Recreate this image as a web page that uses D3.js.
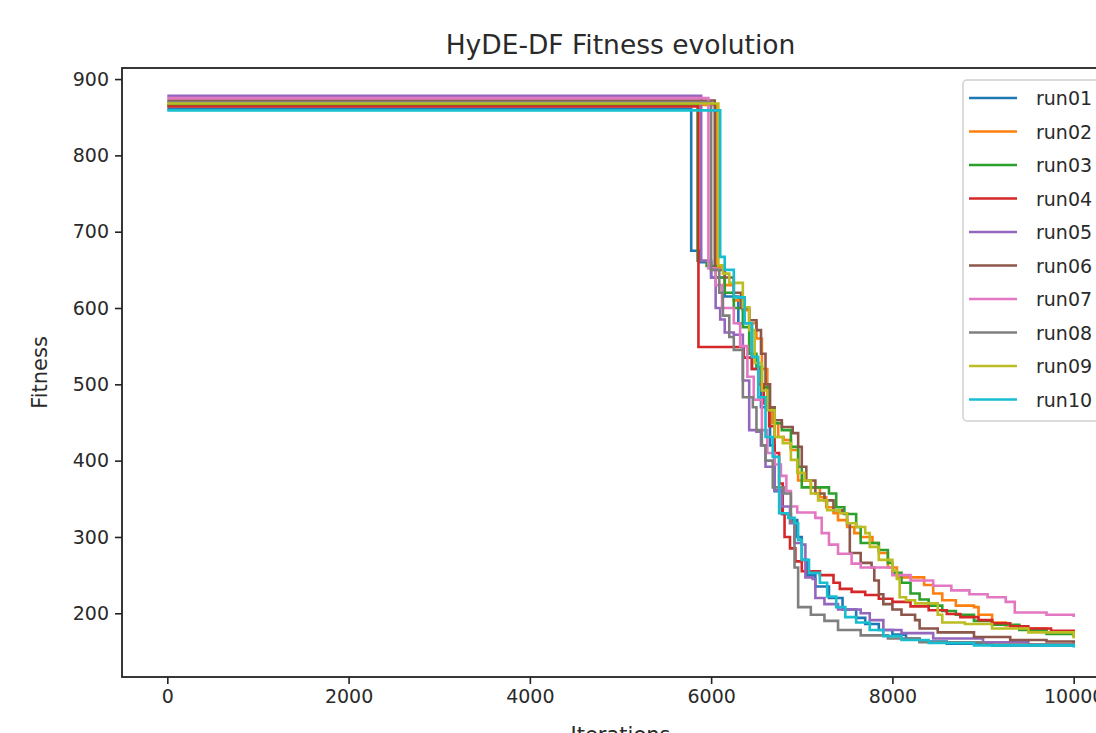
<!DOCTYPE html>
<html>
<head>
<meta charset="utf-8">
<script src="https://cdn.jsdelivr.net/npm/d3@7"></script>
<style>
  body { margin: 0; background: #fff; }
  svg { display: block; font-family: "DejaVu Sans", sans-serif; }
</style>
</head>
<body>
<svg width="1096" height="733"></svg>
<script>
// step data: [iteration, best fitness]
var run01 = [[0,861],[5780,675],[5880,660],[6000,640],[6150,615],[6300,580],[6450,520],[6550,470],[6650,420],[6700,360],[6780,330],[6880,322],[6950,300],[7000,270],[7060,250],[7150,235],[7300,220],[7450,205],[7600,194],[7700,186],[7850,178],[8000,172],[8150,167],[8300,163],[8600,160],[9100,158],[10000,156]];
var run02 = [[0,866],[6060,654],[6150,630],[6250,610],[6350,597],[6420,580],[6500,560],[6560,520],[6620,470],[6670,449],[6740,431],[6800,427],[6880,414],[6960,374],[7100,365],[7200,352],[7270,339],[7350,331],[7400,322],[7500,313],[7580,305],[7650,300],[7780,292],[7850,279],[7950,260],[8050,247],[8350,237],[8450,226],[8550,217],[8700,210],[8900,208],[8950,198],[9100,188],[9250,184],[9400,180],[9700,175],[10000,171]];
var run03 = [[0,866],[5850,662],[5950,655],[6050,640],[6150,620],[6250,600],[6350,575],[6420,540],[6500,523],[6560,496],[6640,470],[6700,449],[6780,440],[6880,418],[6960,392],[7000,365],[7300,357],[7380,339],[7470,330],[7600,313],[7650,292],[7850,283],[7950,266],[8000,253],[8100,240],[8200,226],[8300,218],[8400,210],[8550,203],[8700,198],[8900,190],[9100,185],[9400,178],[9700,173],[10000,169]];
var run04 = [[0,864],[5860,549],[6360,535],[6450,520],[6520,500],[6580,475],[6640,445],[6700,410],[6750,370],[6790,330],[6810,300],[6870,285],[6930,268],[7000,255],[7200,250],[7350,240],[7420,232],[7550,228],[7700,224],[7850,219],[8000,215],[8200,209],[8400,204],[8600,199],[8750,195],[8950,191],[9100,187],[9300,183],[9500,180],[9750,177],[10000,174]];
var run05 = [[0,878],[5890,662],[6000,640],[6050,600],[6100,585],[6150,568],[6250,565],[6350,505],[6420,440],[6500,438],[6550,420],[6600,392],[6700,361],[6780,340],[6870,318],[6920,292],[7000,290],[7040,247],[7120,245],[7150,220],[7250,212],[7400,205],[7650,200],[7750,191],[7900,178],[8100,174],[8450,167],[9000,162],[9500,159],[10000,158]];
var run06 = [[0,872],[6040,650],[6150,640],[6250,620],[6330,600],[6420,584],[6500,571],[6550,540],[6600,500],[6650,470],[6700,453],[6780,444],[6900,436],[6960,418],[7000,392],[7050,374],[7150,357],[7250,348],[7350,335],[7450,331],[7500,318],[7530,279],[7650,266],[7770,260],[7800,243],[7850,225],[7900,212],[8000,205],[8100,198],[8250,191],[8300,180],[8500,175],[8900,169],[9300,165],[9700,163],[10000,161]];
var run07 = [[0,875],[5970,652],[6050,630],[6120,600],[6250,580],[6320,550],[6400,510],[6470,480],[6560,440],[6620,410],[6700,395],[6770,380],[6830,360],[6880,340],[6950,332],[7150,325],[7220,305],[7300,290],[7400,278],[7550,265],[7650,260],[8000,250],[8200,243],[8450,236],[8650,230],[8850,225],[9050,221],[9250,215],[9350,201],[9700,198],[10000,195]];
var run08 = [[0,870],[6000,650],[6090,620],[6130,590],[6200,562],[6250,545],[6350,483],[6460,470],[6500,440],[6560,420],[6600,400],[6680,365],[6800,357],[6880,320],[6920,260],[6960,208],[7100,198],[7250,190],[7400,178],[7650,171],[7950,167],[8300,162],[9000,159],[10000,157]];
var run09 = [[0,868],[6080,656],[6130,645],[6200,633],[6320,633],[6350,601],[6420,571],[6480,528],[6560,492],[6620,466],[6700,431],[6790,423],[6880,401],[6950,384],[7030,374],[7100,357],[7180,348],[7280,335],[7420,331],[7500,318],[7600,313],[7700,305],[7750,287],[7850,270],[8000,256],[8050,245],[8080,221],[8150,217],[8250,213],[8500,198],[8550,188],[8800,186],[9100,180],[9500,175],[10000,167]];
var run10 = [[0,859],[6100,667],[6150,650],[6250,614],[6370,580],[6450,536],[6520,483],[6600,431],[6680,405],[6750,331],[6850,325],[6920,318],[6960,296],[7000,270],[7080,253],[7200,240],[7280,222],[7380,208],[7480,195],[7600,188],[7750,178],[7900,170],[8100,165],[8400,161],[8900,158],[10000,155]];

var runNames = ["run01","run02","run03","run04","run05","run06","run07","run08","run09","run10"];
var runs = [run01, run02, run03, run04, run05, run06, run07, run08, run09, run10];
var colors = ["#1f77b4","#ff7f0e","#2ca02c","#d62728","#9467bd","#8c564b","#e377c2","#7f7f7f","#bcbd22","#17becf"];
var xTicks = [0, 2000, 4000, 6000, 8000, 10000];
var yTicks = [200, 300, 400, 500, 600, 700, 800, 900];

var mLeft = 122, mRight = 1119, mTop = 68, mBottom = 677;

var svg = d3.select("svg");

var xScale = d3.scaleLinear().domain([-500, 10500]).range([mLeft, mRight]);
var yScale = d3.scaleLinear().domain([116.5, 914.5]).range([mBottom, mTop]);

var lineGenerator = d3.line()
  .x(d => xScale(d[0]))
  .y(d => yScale(d[1]))
  .curve(d3.curveStepAfter);

var plot = svg.append("g");
runs.forEach((r, i) => {
  plot.append("path")
    .attr("d", lineGenerator(r))
    .attr("fill", "none")
    .attr("stroke", colors[i])
    .attr("stroke-width", 2.6)
    .attr("stroke-linejoin", "miter");
});

// axes
var xAxis = d3.axisBottom(xScale).tickValues(xTicks).tickFormat(d3.format("d")).tickSizeInner(7).tickSizeOuter(0).tickPadding(6);
var yAxis = d3.axisLeft(yScale).tickValues(yTicks).tickFormat(d3.format("d")).tickSizeInner(7).tickSizeOuter(0).tickPadding(6);

var gx = svg.append("g").attr("transform", `translate(0, ${mBottom})`).call(xAxis);
var gy = svg.append("g").attr("transform", `translate(${mLeft}, 0)`).call(yAxis);
[gx, gy].forEach(g => {
  g.select(".domain").remove();
  g.selectAll(".tick line").attr("stroke", "#222").attr("stroke-width", 1.6);
  g.selectAll(".tick text").attr("font-size", 19).attr("fill", "#2a2a2a").attr("font-family", "DejaVu Sans");
});

// spines
svg.append("rect")
  .attr("x", mLeft).attr("y", mTop)
  .attr("width", mRight - mLeft).attr("height", mBottom - mTop)
  .attr("fill", "none").attr("stroke", "#222").attr("stroke-width", 1.8);

// title and labels
svg.append("text")
  .attr("x", (mLeft + mRight) / 2).attr("y", 54)
  .attr("text-anchor", "middle").attr("font-size", 26.5).attr("fill", "#2a2a2a")
  .text("HyDE-DF Fitness evolution");

svg.append("text")
  .attr("x", (mLeft + mRight) / 2).attr("y", 742)
  .attr("text-anchor", "middle").attr("font-size", 21).attr("fill", "#2a2a2a")
  .text("Iterations");

svg.append("text")
  .attr("transform", `translate(47, ${(mTop + mBottom) / 2}) rotate(-90)`)
  .attr("text-anchor", "middle").attr("font-size", 21).attr("fill", "#2a2a2a")
  .text("Fitness");

// legend
var legend = svg.append("g").attr("transform", "translate(963, 80)");
legend.append("rect")
  .attr("x", 0).attr("y", 0).attr("width", 160).attr("height", 341)
  .attr("rx", 4).attr("fill", "#fff").attr("fill-opacity", 0.8)
  .attr("stroke", "#d0d0d0").attr("stroke-width", 1.5);
runNames.forEach((name, i) => {
  var yy = 18 + i * 33.5;
  legend.append("line")
    .attr("x1", 6).attr("x2", 54).attr("y1", yy).attr("y2", yy)
    .attr("stroke", colors[i]).attr("stroke-width", 2.6);
  legend.append("text")
    .attr("x", 73).attr("y", yy + 7)
    .attr("font-size", 19).attr("fill", "#2a2a2a")
    .text(name);
});
</script>
</body>
</html>
